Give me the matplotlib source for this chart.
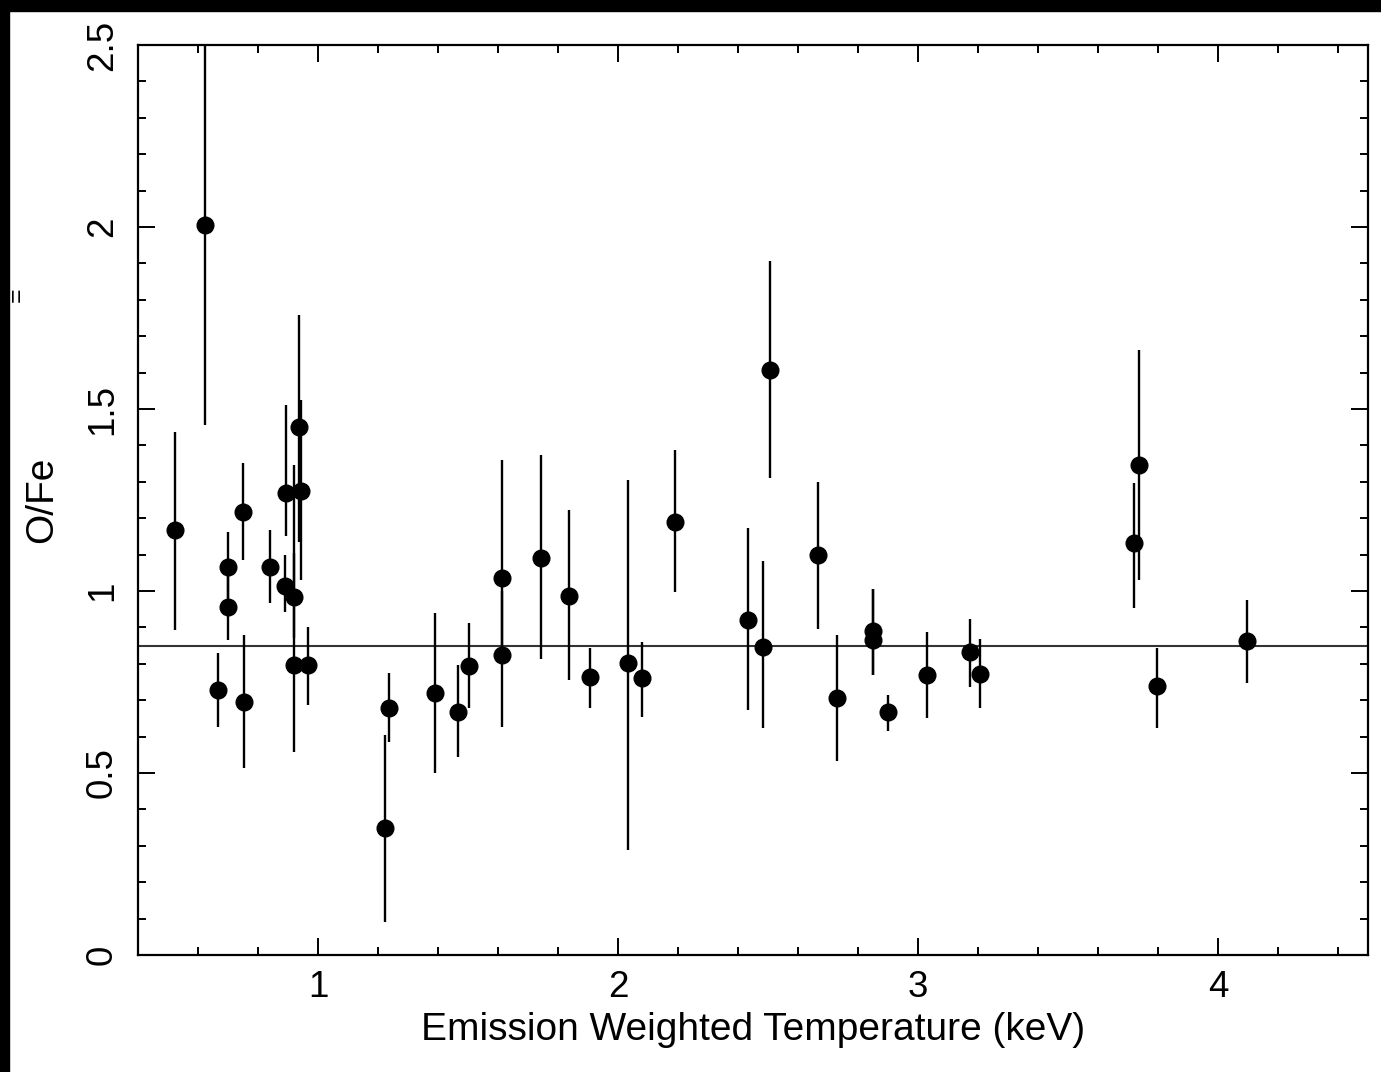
import matplotlib
matplotlib.use("Agg")
import matplotlib.pyplot as plt
from matplotlib.ticker import MultipleLocator
from matplotlib.patches import Rectangle

plt.rcParams['font.family'] = ['Liberation Sans', 'DejaVu Sans']

# emission weighted temperature (keV), O/Fe ratio and its error range
temp = [0.523, 0.623, 0.667, 0.700, 0.700, 0.750, 0.753, 0.840,
        0.893, 0.890, 0.920, 0.920, 0.937, 0.943, 0.967,
        1.223, 1.237, 1.390, 1.467, 1.503, 1.613, 1.613, 1.743, 1.837,
        1.907, 2.033, 2.080, 2.190, 2.433, 2.483, 2.507, 2.667, 2.730,
        2.850, 2.850, 2.900, 3.030, 3.173, 3.207, 3.720, 3.737, 3.797, 4.097]
ofe = [1.168, 2.005, 0.728, 1.066, 0.956, 1.217, 0.695, 1.066,
       1.269, 1.014, 0.984, 0.797, 1.450, 1.275, 0.797,
       0.349, 0.679, 0.720, 0.668, 0.794, 1.036, 0.824, 1.091, 0.986,
       0.764, 0.802, 0.761, 1.190, 0.920, 0.846, 1.607, 1.099, 0.706,
       0.890, 0.865, 0.668, 0.769, 0.832, 0.772, 1.132, 1.346, 0.739, 0.863]
ofe_lo = [0.893, 1.456, 0.626, 0.980, 0.865, 1.085, 0.514, 0.967,
          1.150, 0.942, 0.871, 0.558, 1.135, 1.030, 0.687,
          0.090, 0.585, 0.500, 0.544, 0.678, 0.830, 0.626, 0.813, 0.755,
          0.678, 0.288, 0.654, 0.997, 0.673, 0.624, 1.310, 0.896, 0.533,
          0.769, 0.769, 0.615, 0.651, 0.736, 0.678, 0.953, 1.030, 0.624, 0.747]
ofe_hi = [1.437, 2.600, 0.830, 1.162, 1.050, 1.352, 0.879, 1.168,
          1.511, 1.100, 1.104, 1.346, 1.758, 1.525, 0.900,
          0.604, 0.775, 0.940, 0.797, 0.912, 1.360, 1.000, 1.374, 1.222,
          0.843, 1.305, 0.860, 1.387, 1.173, 1.082, 1.907, 1.300, 0.879,
          1.005, 1.005, 0.714, 0.887, 0.923, 0.868, 1.297, 1.662, 0.843, 0.975]
solar_ratio = 0.85

fig = plt.figure(figsize=(13.81, 10.72), dpi=100)
ax = fig.add_axes([0.0999, 0.1091, 0.8907, 0.8489])

yerr = [[v - lo for v, lo in zip(ofe, ofe_lo)], [hi - v for v, hi in zip(ofe, ofe_hi)]]
ax.errorbar(temp, ofe, yerr=yerr, fmt='o', color='black', ms=12,
            elinewidth=1.7, capsize=0, zorder=3)
ax.axhline(solar_ratio, color='#333333', lw=1.5, zorder=2)

ax.set_xlim(0.4, 4.5)
ax.set_ylim(0, 2.5)
ax.xaxis.set_major_locator(MultipleLocator(1))
ax.xaxis.set_minor_locator(MultipleLocator(0.2))
ax.yaxis.set_major_locator(MultipleLocator(0.5))
ax.yaxis.set_minor_locator(MultipleLocator(0.1))
ax.set_yticks([0, 0.5, 1, 1.5, 2, 2.5])
ax.set_yticklabels(['0', '0.5', '1', '1.5', '2', '2.5'], rotation=90, va='center')
ax.set_xticks([1, 2, 3, 4])
ax.set_xticklabels(['1', '2', '3', '4'])

ax.tick_params(which='both', direction='in', top=True, right=True, width=1.4,
               labelsize=26.5)
ax.tick_params(which='major', length=12)
ax.tick_params(which='minor', length=5.5)
ax.tick_params(axis='x', pad=11)
ax.tick_params(axis='y', pad=13)
for s in ax.spines.values():
    s.set_linewidth(1.6)

ax.set_xlabel('Emission Weighted Temperature (keV)', fontsize=28, labelpad=5)
ax.set_ylabel('O/Fe', fontsize=28, labelpad=18)

# black scan borders on top and left
fig.patches.append(Rectangle((0, 0.99), 1, 0.01, transform=fig.transFigure,
                             color='black', zorder=10))
fig.patches.append(Rectangle((0, 0), 0.0065, 1, transform=fig.transFigure,
                             color='black', zorder=10))
fig.text(0.012, 0.725, '=', rotation=90, fontsize=18, ha='center', va='center')

fig.savefig('out.png', dpi=100)
